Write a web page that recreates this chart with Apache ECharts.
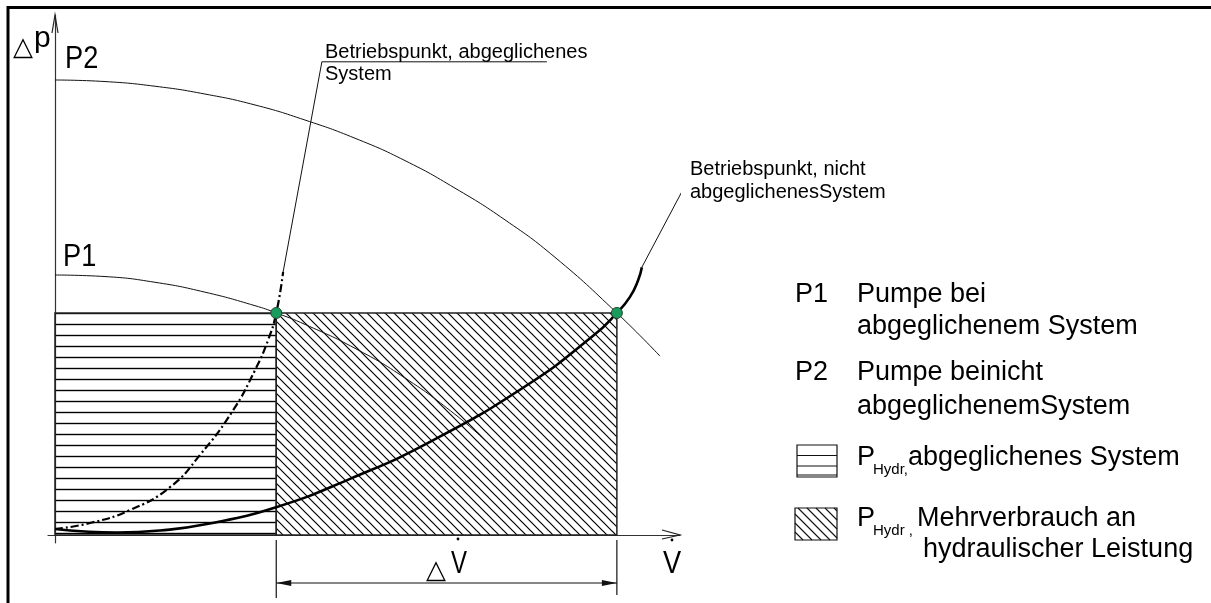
<!DOCTYPE html>
<html>
<head>
<meta charset="utf-8">
<script src="https://cdn.jsdelivr.net/npm/echarts@6/dist/echarts.min.js"></script>
<style>
  html, body { margin: 0; padding: 0; background: #fff; }
  #chart { width: 1211px; height: 603px; }
</style>
</head>
<body>
<div id="chart"></div>
<script>
// diagram units: flow V on x (0..10), pressure dp on y (0..10)
const pumpP2 = [[0, 8.75], [0.8, 8.72], [1.6, 8.63], [2.4, 8.48], [3.2, 8.27], [4.0, 7.98], [4.8, 7.63], [5.6, 7.2], [6.4, 6.67], [7.2, 6.06], [8.0, 5.34], [8.99, 4.27], [9.68, 3.44]];
const pumpP1 = [[0, 5.0], [0.8, 4.97], [1.6, 4.86], [2.4, 4.67], [3.2, 4.41], [3.54, 4.27], [4.0, 4.05], [4.8, 3.59], [5.6, 3.02], [6.4, 2.32], [6.91, 1.79]];
const systemUnbalanced = [[0, 0.115], [0.48, 0.067], [0.99, 0.048], [1.68, 0.087], [2.43, 0.21], [3.55, 0.54], [4.72, 1.08], [6.0, 1.79], [7.55, 2.88], [8.61, 3.83], [8.99, 4.27], [9.2, 4.58], [9.33, 4.9], [9.39, 5.15]];
const systemBalanced = [[0, 0.115], [0.56, 0.23], [1.2, 0.48], [1.84, 0.92], [2.32, 1.54], [2.85, 2.4], [3.2, 3.17], [3.41, 3.75], [3.54, 4.27], [3.65, 5.06]];
const operatingPoints = [[3.54, 4.27], [8.99, 4.27]];
const leaderBalanced = [[3.65, 5.06], [4.27, 9.1], [7.87, 9.1]];
const leaderUnbalanced = [[9.39, 5.15], [10.13, 6.83], [13.09, 6.83]];
// hatched power areas: [x0, x1, y0, y1]
const hatchAreas = [[0, 3.54, 0, 4.27], [3.54, 8.99, 0, 4.27]];
const deltaFlow = [[3.54, 8.99]];

const FONT = '"Liberation Sans", Arial, sans-serif';
const TRI = '"DejaVu Sans", sans-serif';

function makePattern(kind) {
  const c = document.createElement('canvas');
  const ctx = c.getContext('2d');
  ctx.strokeStyle = '#111';
  if (kind === 'h') {
    c.width = 8; c.height = 11;
    ctx.lineWidth = 1.4;
    ctx.beginPath(); ctx.moveTo(0, 5.5); ctx.lineTo(8, 5.5); ctx.stroke();
  } else {
    c.width = 9; c.height = 9;
    ctx.lineWidth = 1.2;
    ctx.beginPath();
    ctx.moveTo(-1, -1); ctx.lineTo(10, 10);
    ctx.moveTo(-1, 8); ctx.lineTo(1, 10);
    ctx.moveTo(8, -1); ctx.lineTo(10, 1);
    ctx.stroke();
  }
  return { image: c, repeat: 'repeat' };
}
const patterns = [makePattern('h'), makePattern('d')];

function label(text, x, baseline, size, family, sx) {
  return {
    type: 'text', x: x, y: baseline - 0.347 * size, z: 50, scaleX: sx || 1,
    style: { text: text, font: size + 'px ' + (family || FONT), fill: '#000', align: 'left', verticalAlign: 'middle' }
  };
}

function iconHatchH(x, y, w, h) {
  const kids = [{ type: 'rect', shape: { x: x, y: y, width: w, height: h }, style: { fill: '#fff', stroke: '#111', lineWidth: 1.2 } }];
  [10.5, 21, 30].forEach(function (dy) {
    kids.push({ type: 'line', shape: { x1: x, y1: y + dy, x2: x + w, y2: y + dy }, style: { stroke: '#111', lineWidth: 1.2 } });
  });
  return { type: 'group', children: kids };
}

function iconHatchD(x, y, w, h) {
  const kids = [{ type: 'rect', shape: { x: x, y: y, width: w, height: h }, style: { fill: '#fff', stroke: '#111', lineWidth: 1.2 } }];
  for (let c = -24; c < w; c += 9) {
    const sx = Math.max(c, 0), sy = Math.max(-c, 0);
    const ex = Math.min(w, h + c), ey = Math.min(h, w - c);
    if (ex <= sx) continue;
    kids.push({ type: 'line', shape: { x1: x + sx, y1: y + sy, x2: x + ex, y2: y + ey }, style: { stroke: '#111', lineWidth: 1.1 } });
  }
  return { type: 'group', children: kids };
}

const staticGraphics = [
  { type: 'polyline', shape: { points: [[8, 603], [8, 7.5], [1211, 7.5]] }, style: { stroke: '#000', lineWidth: 3, fill: null }, z: 50 },
  label('\u25B3', 13, 57, 26, TRI),
  label('p', 34, 49, 30),
  label('P2', 65, 70, 32, null, 0.85),
  label('P1', 63, 268, 32, null, 0.85),
  label('Betriebspunkt, abgeglichenes', 325, 59, 20),
  label('System', 325, 81, 20),
  label('Betriebspunkt, nicht', 690, 176, 20),
  label('abgeglichenesSystem', 690, 199, 20),
  label('\u25B3', 426, 580, 26, TRI),
  label('V', 451, 575, 32, null, 0.75),
  { type: 'circle', shape: { cx: 458, cy: 539, r: 1.4 }, style: { fill: '#000' }, z: 50 },
  label('V', 663, 575, 32, null, 0.85),
  { type: 'circle', shape: { cx: 672, cy: 540, r: 1.4 }, style: { fill: '#000' }, z: 50 },
  // legend
  label('P1', 795, 304, 27),
  label('Pumpe bei', 857, 304, 27),
  label('abgeglichenem System', 857, 336, 27),
  label('P2', 795, 382, 27),
  label('Pumpe beinicht', 857, 382, 27),
  label('abgeglichenemSystem', 857, 416, 27),
  iconHatchH(797, 445, 40, 32),
  label('P', 857, 467, 27),
  label('Hydr,', 873, 475, 15),
  label('abgeglichenes System', 908, 467, 27),
  iconHatchD(795, 508, 42, 32),
  label('P', 857, 528, 27),
  label('Hydr ,', 873, 536, 15),
  label('Mehrverbrauch an', 917, 528, 27),
  label('hydraulischer Leistung', 923, 559, 27)
];

const chart = echarts.init(document.getElementById('chart'));

const thin = { color: '#111', width: 1 };

const option = {
  animation: false,
  backgroundColor: '#fff',
  grid: { left: 48, right: 531, top: 15, bottom: 60.2 },
  xAxis: {
    type: 'value', min: -0.112, max: 10,
    axisLine: { onZero: true, lineStyle: { color: '#333', width: 1.2 } },
    axisTick: { show: false }, axisLabel: { show: false }, splitLine: { show: false }
  },
  yAxis: {
    type: 'value', min: -0.15, max: 10,
    axisLine: { onZero: true, lineStyle: { color: '#333', width: 1.2 } },
    axisTick: { show: false }, axisLabel: { show: false }, splitLine: { show: false }
  },
  series: [
    {
      type: 'custom', z: 1, clip: false,
      data: hatchAreas,
      encode: { x: [0, 1], y: [2, 3] },
      renderItem: function (params, api) {
        const a = api.coord([api.value(0), api.value(3)]);
        const b = api.coord([api.value(1), api.value(2)]);
        return {
          type: 'rect',
          shape: { x: a[0], y: a[1], width: b[0] - a[0], height: b[1] - a[1] },
          style: { fill: patterns[params.dataIndex], stroke: '#222', lineWidth: 1.5 }
        };
      }
    },
    { name: 'P1', type: 'line', z: 3, data: pumpP1, smooth: true, showSymbol: false, lineStyle: thin },
    { name: 'P2', type: 'line', z: 3, data: pumpP2, smooth: true, showSymbol: false, lineStyle: thin },
    { type: 'line', z: 4, data: systemUnbalanced, smooth: true, showSymbol: false, lineStyle: { color: '#000', width: 2.6 } },
    { type: 'line', z: 4, data: systemBalanced, smooth: true, showSymbol: false, lineStyle: { color: '#000', width: 2.2, type: [8, 3, 2, 3] } },
    { type: 'line', z: 3, data: leaderBalanced, clip: false, showSymbol: false, lineStyle: thin },
    { type: 'line', z: 3, data: leaderUnbalanced, clip: false, showSymbol: false, lineStyle: thin },
    {
      type: 'scatter', z: 6, data: operatingPoints, symbolSize: 11,
      itemStyle: { color: '#1a9a5c', borderColor: '#24452f', borderWidth: 1, opacity: 1 }
    },
    {
      type: 'custom', z: 5, clip: false,
      data: deltaFlow,
      encode: { x: [0, 1] },
      renderItem: function (params, api) {
        const a = api.coord([api.value(0), 0]);
        const b = api.coord([api.value(1), 0]);
        const ym = a[1] + 48;
        const st = { stroke: '#111', lineWidth: 1.2 };
        return {
          type: 'group',
          children: [
            { type: 'line', shape: { x1: a[0], y1: a[1] + 5, x2: a[0], y2: a[1] + 63 }, style: st },
            { type: 'line', shape: { x1: b[0], y1: b[1] + 5, x2: b[0], y2: b[1] + 60 }, style: st },
            { type: 'line', shape: { x1: a[0], y1: ym, x2: b[0], y2: ym }, style: st },
            { type: 'polygon', shape: { points: [[a[0], ym], [a[0] + 15, ym - 3], [a[0] + 15, ym + 3]] }, style: { fill: '#111' } },
            { type: 'polygon', shape: { points: [[b[0], ym], [b[0] - 15, ym - 3], [b[0] - 15, ym + 3]] }, style: { fill: '#111' } }
          ]
        };
      }
    }
  ],
  graphic: staticGraphics
};

chart.setOption(option);

// open arrow heads at the axis ends
const yTip = chart.convertToPixel({ gridIndex: 0 }, [0, 10]);
const xTip = chart.convertToPixel({ gridIndex: 0 }, [10, 0]);
const arrowStyle = { stroke: '#222', lineWidth: 1.2, fill: null };
chart.setOption({
  graphic: staticGraphics.concat([
    { type: 'polyline', shape: { points: [[yTip[0] - 3, yTip[1] + 18], [yTip[0], yTip[1]], [yTip[0] + 3, yTip[1] + 18]] }, style: arrowStyle, z: 50 },
    { type: 'polyline', shape: { points: [[xTip[0] - 18, xTip[1] - 5], [xTip[0], xTip[1]], [xTip[0] - 18, xTip[1] + 4]] }, style: arrowStyle, z: 50 }
  ])
});

window.addEventListener('resize', function () { chart.resize(); });
</script>
</body>
</html>
